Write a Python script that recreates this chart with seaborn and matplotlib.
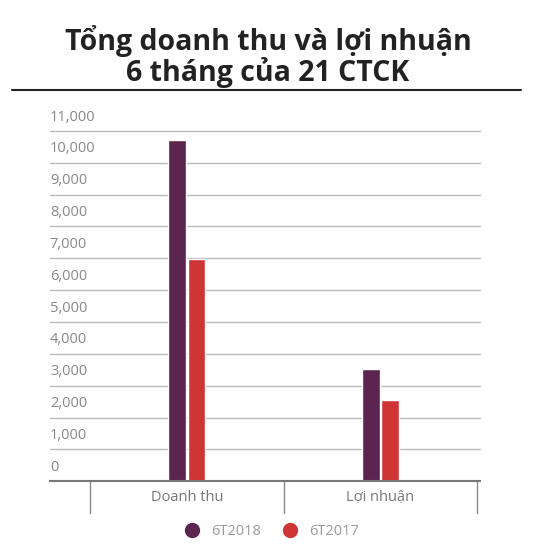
import pandas as pd
import matplotlib.pyplot as plt
import matplotlib.transforms as mtransforms
from matplotlib.lines import Line2D
import seaborn as sns

categories = ['Doanh thu', 'Lợi nhuận']
series = ['6T2018', '6T2017']
v2018 = [10700, 3520]
v2017 = [6980, 2550]
yticks = [0, 1000, 2000, 3000, 4000, 5000, 6000, 7000, 8000, 9000, 10000, 11000]
colors = ['#5c2550', '#cf3535']

df = pd.DataFrame({
    'cat': categories * 2,
    'ky': [series[0]] * 2 + [series[1]] * 2,
    'val': v2018 + v2017,
})

sns.set_style('white')
plt.rcParams['font.family'] = ['Open Sans', 'DejaVu Sans']

fig = plt.figure(figsize=(5.36, 5.5), dpi=100)
ax = fig.add_axes([0.093, 0.125, 0.803, 0.637])
sns.barplot(data=df, x='cat', y='val', hue='ky', palette=colors, width=0.2,
            gap=0.1, saturation=1, ax=ax, legend=False)
ax.set_xlim(-0.707, 1.515)
ax.set_ylim(0, 11000)
ax.set_xlabel('')
ax.set_ylabel('')
ax.set_xticks([])
ax.set_yticks([])
for s in ['top', 'right', 'left']:
    ax.spines[s].set_visible(False)
ax.spines['bottom'].set_color('#777777')
ax.spines['bottom'].set_linewidth(1.5)

tr = mtransforms.blended_transform_factory(ax.transAxes, ax.transData)
for t in yticks:
    if t > 0:
        ax.plot([0, 1], [t, t], color='#bbbbbb', lw=1, transform=tr, zorder=0, clip_on=False)
    ax.text(0.0, t + 200, f'{t:,}', transform=tr, ha='left', va='bottom',
            fontsize=10.5, color='#888888', clip_on=False)

trx = mtransforms.blended_transform_factory(ax.transData, ax.transAxes)
for b in [-0.5, 0.5, 1.5]:
    ax.plot([b, b], [0, -0.09], color='#888888', lw=1, transform=trx, clip_on=False)
for i, c in enumerate(categories):
    ax.text(i, -0.045, c, transform=trx, ha='center', va='center',
            fontsize=10.5, color='#777777')

handles = [Line2D([], [], marker='o', ls='', color=colors[i], markersize=10, label=s)
           for i, s in enumerate(series)]
leg = fig.legend(handles=handles, loc='center', bbox_to_anchor=(0.5, 0.034), ncol=2,
                 frameon=False, fontsize=10.5, handletextpad=0.3, columnspacing=1.0)
for t in leg.get_texts():
    t.set_color('#999999')

fig.text(0.5, 0.897, 'Tổng doanh thu và lợi nhuận\n6 tháng của 21 CTCK', ha='center',
         va='center', fontsize=20.5, fontweight='bold', color='#222222', linespacing=1.0)
fig.add_artist(Line2D([0.022, 0.972], [0.836, 0.836], color='#222222', lw=1.5))

fig.savefig('out.png', dpi=100)
